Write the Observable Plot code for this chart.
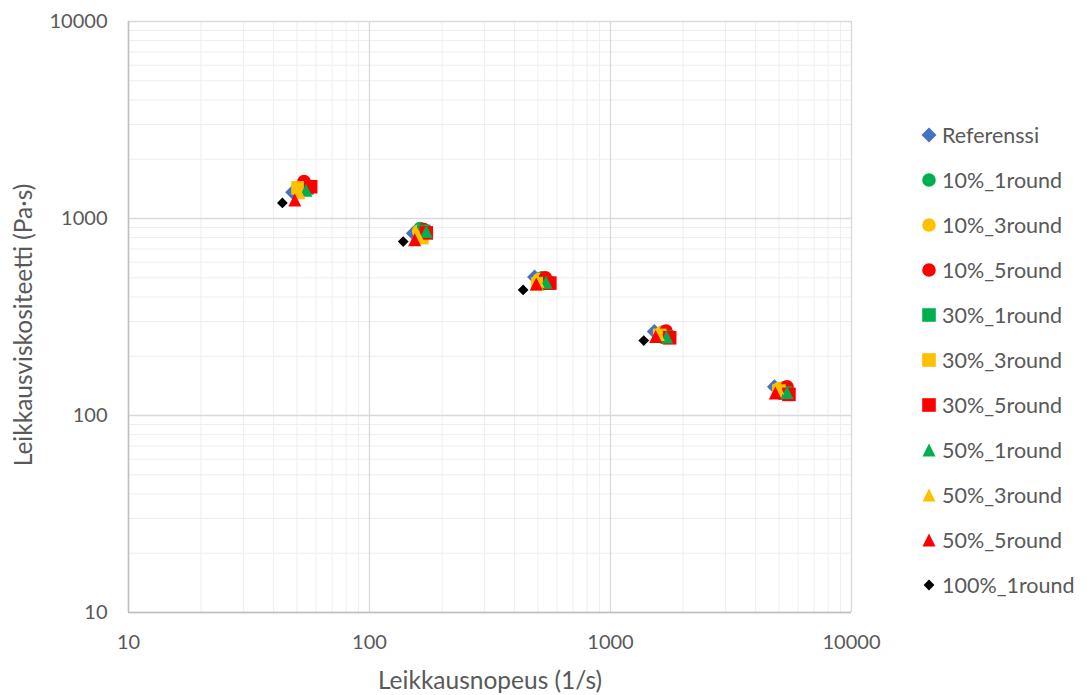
<!DOCTYPE html>
<html>
<head>
<meta charset="utf-8">
<script src="https://cdn.jsdelivr.net/npm/d3@7"></script>
<script src="https://cdn.jsdelivr.net/npm/@observablehq/plot@0.6"></script>
<style>
  body { margin: 0; background: #fff; font-family: Lato, "Open Sans", sans-serif; }
  #wrap { position: relative; width: 1087px; height: 695px; }
  #legend { position: absolute; left: 920px; top: 112px; }
  .item { display: flex; align-items: center; height: 45px; font-size: 21.5px; color: #595959; white-space: nowrap; }
  .item svg { margin-right: 4px; }
</style>
</head>
<body>
<div id="wrap"><div id="legend"></div></div>
<script>
// Series names and marker styles
const seriesNames = ["Referenssi", "10%_1round", "10%_3round", "10%_5round", "30%_1round", "30%_3round", "30%_5round", "50%_1round", "50%_3round", "50%_5round", "100%_1round"];
const seriesColors = ["#4472C4", "#00B050", "#FFC000", "#FF0000", "#00B050", "#FFC000", "#FF0000", "#00B050", "#FFC000", "#FF0000", "#000000"];
const seriesShapes = ["diamond", "circle", "circle", "circle", "square", "square", "square", "triangle", "triangle", "triangle", "diamond"];
const seriesRadius = [7.5, 6.8, 6.8, 6.8, 6.8, 6.8, 6.8, 6.5, 6.5, 6.5, 5.4];

// Shear rate (1/s) per series
const shearRates = [
  [48, 152, 484, 1520, 4790],
  [53, 162, 520, 1650, 5200],
  [51, 160, 505, 1620, 5000],
  [53.5, 168, 537, 1700, 5400],
  [55, 168, 545, 1720, 5300],
  [50.5, 165, 500, 1600, 5000],
  [57, 172, 560, 1760, 5500],
  [54.5, 172, 540, 1710, 5400],
  [51, 158, 500, 1580, 4950],
  [49, 154, 492, 1540, 4830],
  [43.5, 138, 434, 1374]
];
// Shear viscosity (Pa·s) per series
const viscosities = [
  [1360, 842, 505, 267, 140],
  [1470, 890, 500, 265, 138],
  [1430, 860, 490, 262, 137],
  [1540, 880, 500, 268, 140],
  [1430, 860, 470, 250, 130],
  [1430, 800, 465, 255, 133],
  [1450, 845, 470, 248, 128],
  [1390, 860, 475, 250, 131],
  [1350, 830, 480, 258, 138],
  [1240, 780, 465, 252, 130],
  [1200, 764, 434, 240]
];

// Axis ticks
const decadeTicks = [10, 100, 1000, 10000];
const xTitle = "Leikkausnopeus (1/s)";
const yTitle = "Leikkausviskositeetti (Pa·s)";

// Minor grid positions (2..9 within each decade)
const minorGrid = [10, 100, 1000].flatMap(d => d3.range(2, 10).map(k => k * d));

// Marker shapes: size = π r², r is half the marker extent
const half = size => Math.sqrt(size / Math.PI);
const shapes = {
  diamond: { draw(ctx, size) { const r = half(size); ctx.moveTo(0, -r); ctx.lineTo(r, 0); ctx.lineTo(0, r); ctx.lineTo(-r, 0); ctx.closePath(); } },
  square: { draw(ctx, size) { const r = half(size); ctx.rect(-r, -r, 2 * r, 2 * r); } },
  triangle: { draw(ctx, size) { const r = half(size); ctx.moveTo(0, -r); ctx.lineTo(r, r); ctx.lineTo(-r, r); ctx.closePath(); } },
  circle: { draw(ctx, size) { const r = half(size); ctx.moveTo(r, 0); ctx.arc(0, 0, r, 0, 2 * Math.PI); ctx.closePath(); } }
};

const dotMarks = seriesNames.map((name, i) =>
  Plot.dot(shearRates[i].map((x, j) => ({ x, y: viscosities[i][j], name })), {
    x: "x", y: "y",
    symbol: () => shapes[seriesShapes[i]],
    r: seriesRadius[i],
    fill: seriesColors[i],
    stroke: "none"
  })
);

const chart = Plot.plot({
  width: 1087,
  height: 695,
  marginLeft: 128,
  marginRight: 236,
  marginTop: 21,
  marginBottom: 83,
  x: { type: "log", domain: [10, 10000] },
  y: { type: "log", domain: [10, 10000] },
  symbol: { type: "identity" },
  style: { fontFamily: "Lato, 'Open Sans', sans-serif", fontSize: "20px", color: "#595959", background: "transparent" },
  marks: [
    Plot.ruleX(minorGrid, { stroke: "#eeeeee", strokeWidth: 1 }),
    Plot.ruleY(minorGrid, { stroke: "#eeeeee", strokeWidth: 1 }),
    Plot.ruleX(decadeTicks, { stroke: "#d9d9d9", strokeWidth: 1.3 }),
    Plot.ruleY(decadeTicks, { stroke: "#d9d9d9", strokeWidth: 1.3 }),
    Plot.ruleX([10], { stroke: "#bfbfbf", strokeWidth: 1.5 }),
    Plot.ruleY([10], { stroke: "#bfbfbf", strokeWidth: 1.5 }),
    Plot.axisX({ ticks: decadeTicks, tickFormat: d => String(d), tickSize: 0, tickPadding: 22, label: null }),
    Plot.axisY({ ticks: decadeTicks, tickFormat: d => String(d), tickSize: 0, tickPadding: 21, label: null }),
    ...dotMarks,
    Plot.text([xTitle], { frameAnchor: "bottom", dy: 69, lineAnchor: "middle", fill: "#595959", fontSize: 24.5 }),
    Plot.text([yTitle], { frameAnchor: "left", textAnchor: "middle", dx: -104, dy: 8, rotate: -90, lineAnchor: "middle", fill: "#595959", fontSize: 24.5 })
  ]
});

const wrap = document.getElementById("wrap");
wrap.insertBefore(chart, wrap.firstChild);

// Legend: one marker and name per series
const legend = d3.select("#legend");
seriesNames.forEach((name, i) => {
  const item = legend.append("div").attr("class", "item");
  const r = seriesRadius[i];
  const p = d3.path();
  shapes[seriesShapes[i]].draw(p, Math.PI * r * r);
  const svg = item.append("svg").attr("width", 18).attr("height", 18).attr("viewBox", "-9 -9 18 18");
  svg.append("path").attr("d", p.toString()).attr("fill", seriesColors[i]);
  item.append("span").text(name);
});
</script>
</body>
</html>
